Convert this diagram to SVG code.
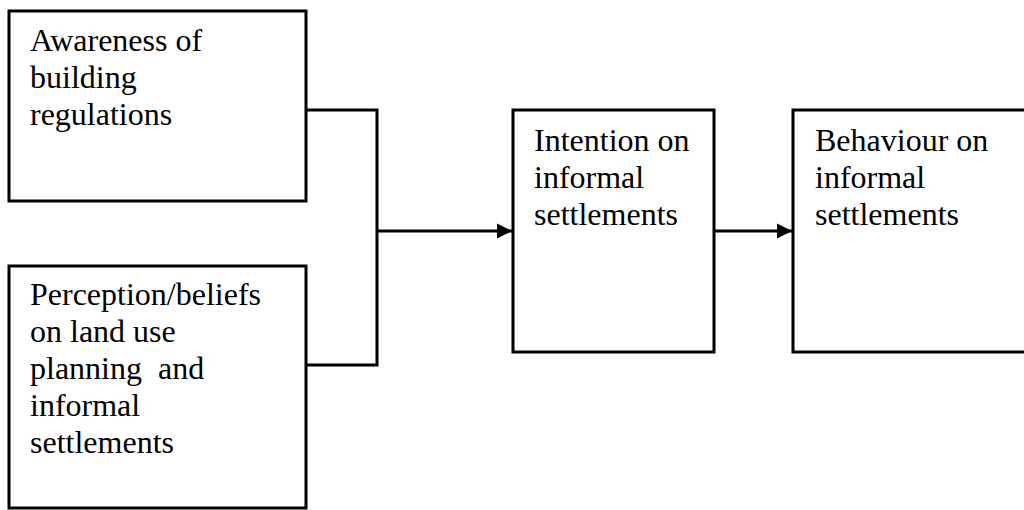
<svg xmlns="http://www.w3.org/2000/svg" width="1024" height="510" viewBox="0 0 1024 510">
<defs>
<style>
.box{fill:#fff;stroke:#000;stroke-width:3}
.t{font-family:"Liberation Serif","Times New Roman",serif;font-size:32px;fill:#000}
.c{fill:none;stroke:#000;stroke-width:3}
</style>
<marker id="ah" markerWidth="16" markerHeight="16" refX="15" refY="8" orient="auto" markerUnits="userSpaceOnUse">
<path d="M0,0.5 L15,8 L0,15.5 Z" fill="#000"/>
</marker>
</defs>
<rect width="1024" height="510" fill="#fff"/>
<g id="connectors">
<polyline class="c" points="307,110 377,110 377,365 307,365"/>
<line class="c" x1="377" y1="231" x2="512" y2="231" marker-end="url(#ah)"/>
<line class="c" x1="714" y1="231" x2="792" y2="231" marker-end="url(#ah)"/>
</g>
<g id="node-awareness">
<rect class="box" x="9" y="11" width="297" height="190"/>
<text class="t" x="30" y="51">Awareness of</text>
<text class="t" x="30" y="88">building</text>
<text class="t" x="30" y="125">regulations</text>
</g>
<g id="node-perception">
<rect class="box" x="9" y="266" width="297" height="242"/>
<text class="t" x="30" y="305">Perception/beliefs</text>
<text class="t" x="30" y="342">on land use</text>
<text class="t" x="30" y="379" xml:space="preserve">planning  and</text>
<text class="t" x="30" y="416">informal</text>
<text class="t" x="30" y="453">settlements</text>
</g>
<g id="node-intention">
<rect class="box" x="513" y="110" width="201" height="242"/>
<text class="t" x="534" y="151">Intention on</text>
<text class="t" x="534" y="188">informal</text>
<text class="t" x="534" y="225">settlements</text>
</g>
<g id="node-behaviour">
<rect class="box" x="793" y="110" width="240" height="242"/>
<text class="t" x="815" y="151">Behaviour on</text>
<text class="t" x="815" y="188">informal</text>
<text class="t" x="815" y="225">settlements</text>
</g>
</svg>
